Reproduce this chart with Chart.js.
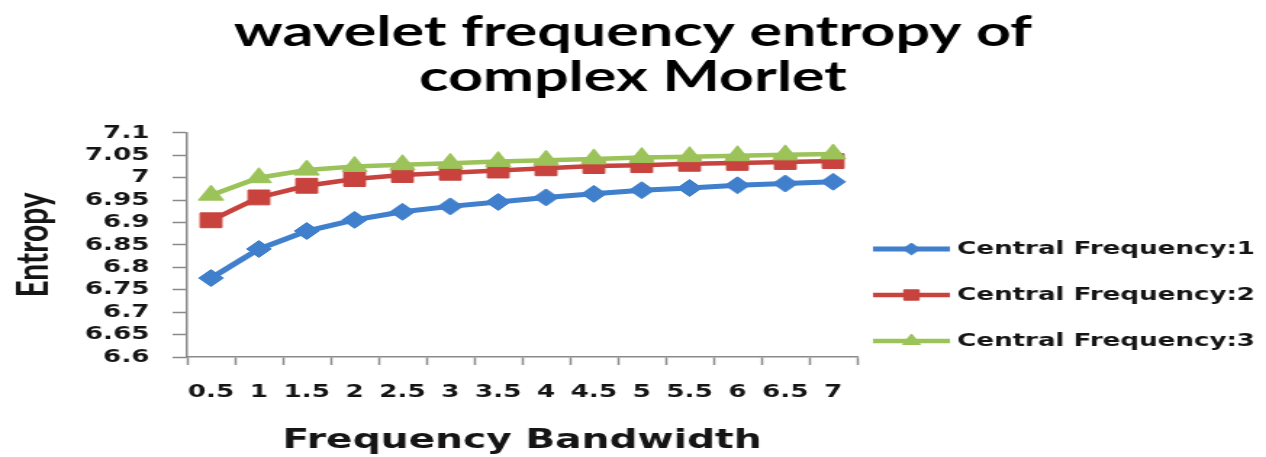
<!DOCTYPE html>
<html>
<head>
<meta charset="utf-8">
<title>wavelet frequency entropy of complex Morlet</title>
<script src="https://cdn.jsdelivr.net/npm/chart.js@4"></script>
<style>
  html, body { margin: 0; padding: 0; background: #fff; overflow: hidden; }
  #wrap { width: 1266px; height: 457px; overflow: hidden; }
  /* the chart is laid out on a narrower canvas and widened horizontally */
  #stage { width: 873px; height: 457px; transform-origin: 0 0; transform: scaleX(1.4502); }
  canvas { display: block; }
</style>
</head>
<body>
<div id="wrap"><div id="stage"><canvas id="chart" width="873" height="457"></canvas></div></div>
<script>
// Frequency bandwidth values on the x axis
const bandwidths = ['0.5', '1', '1.5', '2', '2.5', '3', '3.5', '4', '4.5', '5', '5.5', '6', '6.5', '7'];

// Entropy for each central frequency
const centralFreq1 = [6.776, 6.841, 6.881, 6.906, 6.924, 6.936, 6.946, 6.956, 6.964, 6.972, 6.977, 6.983, 6.987, 6.991];
const centralFreq2 = [6.905, 6.956, 6.982, 6.997, 7.006, 7.011, 7.016, 7.021, 7.026, 7.028, 7.031, 7.033, 7.035, 7.037];
const centralFreq3 = [6.961, 7.000, 7.017, 7.025, 7.029, 7.032, 7.036, 7.039, 7.042, 7.045, 7.047, 7.049, 7.051, 7.053];

const seriesNames = ['Central Frequency:1', 'Central Frequency:2', 'Central Frequency:3'];

// y axis range and step
const yMin = 6.6;
const yMax = 7.1;
const yStep = 0.05;

const BLUE = '#3f7fcc';
const RED = '#c8433e';
const GREEN = '#9bc359';
const AXIS = '#8a8a8a';
const INK = '#151515';
const TICK_FONT = { family: 'DejaVu Sans', size: 18, weight: 'bold', lineHeight: 1.2 };
const LEGEND_SPACE = 282;

// Legend to the right of the plot: line with a marker in the middle, then the label
const sideLegend = {
  id: 'sideLegend',
  afterDraw(chart, args, opts) {
    const ctx = chart.ctx;
    const area = chart.chartArea;
    const H = Chart.helpers;
    ctx.save();
    chart.data.datasets.forEach((ds, i) => {
      const y = opts.top + i * opts.gap;
      const x0 = area.right + opts.offset;
      const x1 = x0 + opts.lineLength;
      ctx.strokeStyle = ds.borderColor;
      ctx.lineWidth = ds.borderWidth;
      ctx.lineCap = 'butt';
      ctx.beginPath();
      ctx.moveTo(x0, y);
      ctx.lineTo(x1, y);
      ctx.stroke();
      ctx.fillStyle = ds.pointBackgroundColor;
      ctx.strokeStyle = ds.pointBorderColor;
      ctx.lineWidth = 1;
      H.drawPoint(ctx, {
        pointStyle: ds.pointStyle,
        radius: ds.pointRadius * opts.markerScale,
        borderWidth: 1,
        rotation: 0
      }, (x0 + x1) / 2, y);
      ctx.fillStyle = opts.color;
      ctx.font = opts.font;
      ctx.textAlign = 'left';
      ctx.textBaseline = 'middle';
      ctx.fillText(ds.label, x1 + opts.textGap, y);
    });
    ctx.restore();
  }
};

function series(label, data, color, style, radius, width, order) {
  return {
    label, data, order,
    borderColor: color,
    backgroundColor: color,
    borderWidth: width,
    pointStyle: style,
    pointRadius: radius,
    pointHoverRadius: radius,
    pointBackgroundColor: color,
    pointBorderColor: color,
    pointBorderWidth: 1,
    tension: 0,
    fill: false
  };
}

new Chart(document.getElementById('chart'), {
  type: 'line',
  data: {
    labels: bandwidths,
    datasets: [
      series(seriesNames[0], centralFreq1, BLUE, 'rectRot', 8.5, 5, 2),
      series(seriesNames[1], centralFreq2, RED, 'rect', 10.5, 4.5, 1),
      series(seriesNames[2], centralFreq3, GREEN, 'triangle', 10, 4.5, 0)
    ]
  },
  plugins: [sideLegend],
  options: {
    responsive: false,
    animation: false,
    devicePixelRatio: 1,
    events: [],
    layout: { padding: 0 },
    plugins: {
      legend: { display: false },
      tooltip: { enabled: false },
      title: {
        display: true,
        text: ['wavelet frequency entropy of', 'complex Morlet'],
        color: '#000',
        font: { family: 'Lato', size: 42, weight: 'bold', lineHeight: 1.07 },
        padding: { top: 10, bottom: 33 }
      },
      sideLegend: {
        top: 249,
        gap: 46,
        offset: 11,
        lineLength: 53,
        textGap: 5,
        markerScale: 0.7,
        color: INK,
        font: 'bold 18px "DejaVu Sans"'
      }
    },
    scales: {
      x: {
        type: 'category',
        offset: true,
        border: { display: true, color: AXIS, width: 1.5 },
        grid: { display: true, offset: true, drawOnChartArea: false, drawTicks: true, tickLength: 8, tickColor: AXIS, tickWidth: 1.5 },
        ticks: { color: INK, font: TICK_FONT, padding: 17, maxRotation: 0, autoSkip: false },
        title: {
          display: true,
          text: 'Frequency Bandwidth',
          color: INK,
          font: { family: 'DejaVu Sans', size: 27, weight: 'bold', lineHeight: 1.2 },
          padding: { top: 4, bottom: 0 }
        }
      },
      y: {
        min: yMin,
        max: yMax,
        border: { display: true, color: AXIS, width: 1.5 },
        grid: { display: true, drawOnChartArea: false, drawTicks: true, tickLength: 10, tickColor: AXIS, tickWidth: 1.5 },
        ticks: {
          stepSize: yStep,
          autoSkip: false,
          color: INK,
          font: TICK_FONT,
          padding: 16,
          callback: (v) => String(Number(v.toFixed(2)))
        },
        title: {
          display: true,
          text: 'Entropy',
          color: INK,
          font: { family: 'Lato', size: 30, weight: 'bold', lineHeight: 1.2 },
          padding: { top: 5.4, bottom: 1.2 }
        }
      },
      // empty right-hand axis that keeps room for the legend
      legendRoom: {
        type: 'linear',
        position: 'right',
        display: true,
        grid: { display: false, drawTicks: false },
        border: { display: false },
        ticks: { display: false },
        afterFit: (scale) => { scale.width = LEGEND_SPACE; }
      }
    }
  }
});
</script>
</body>
</html>
